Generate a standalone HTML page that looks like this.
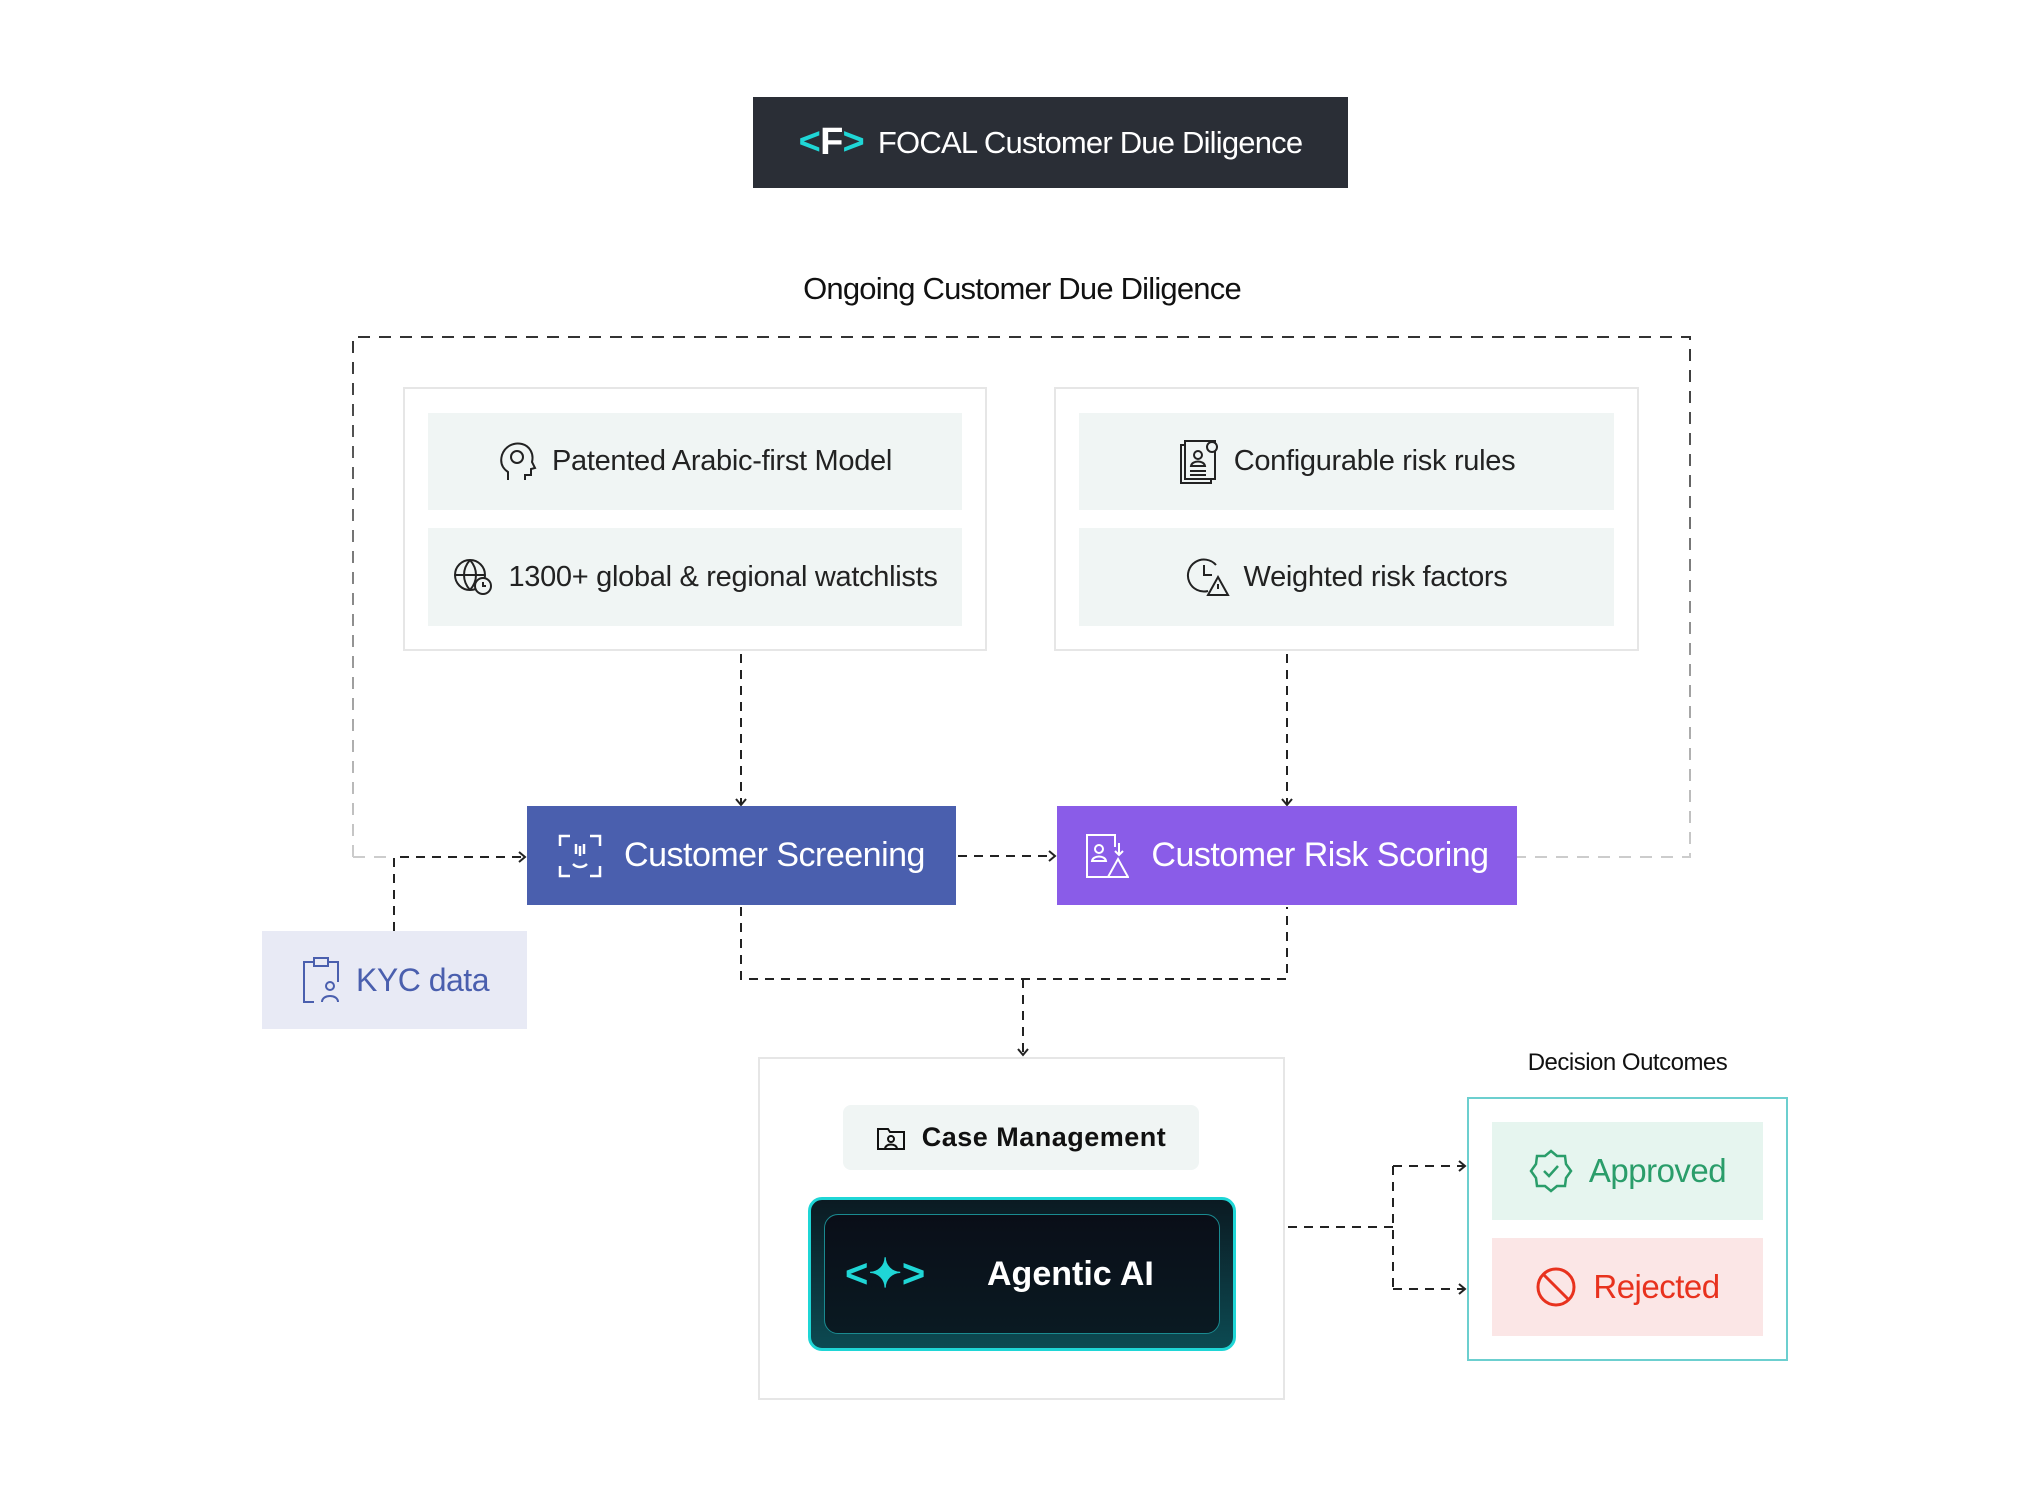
<!DOCTYPE html>
<html><head><meta charset="utf-8"><style>
body{margin:0;width:2040px;height:1494px;background:#fff;position:relative;overflow:hidden;font-family:"Liberation Sans",sans-serif}
.a{position:absolute;box-sizing:border-box}
.item{background:#f0f5f4;display:flex;align-items:center;justify-content:center;font-size:29px;color:#222;gap:14px;letter-spacing:-0.3px}
.panel{border:2px solid #e6e6e6;background:#fff}
.node{display:flex;align-items:center;justify-content:center;color:#fff;font-size:34px;gap:22px;letter-spacing:-0.5px}
</style></head><body>
<div class="a" style="left:753px;top:97px;width:595px;height:91px;background:#2a2e36;display:flex;align-items:center;justify-content:center;gap:14px;color:#fff;font-size:31px;letter-spacing:-0.8px">
<span style="font-size:38px;font-weight:bold"><span style="color:#1fd6d6">&lt;</span>F<span style="color:#1fd6d6">&gt;</span></span><span>FOCAL Customer Due Diligence</span></div>
<div class="a" style="left:700px;top:271px;width:644px;text-align:center;font-size:31px;color:#111;letter-spacing:-0.8px">Ongoing Customer Due Diligence</div>

<svg class="a" style="left:0;top:0" width="2040" height="1494">
<defs><linearGradient id="g" x1="0" y1="337" x2="0" y2="857" gradientUnits="userSpaceOnUse"><stop offset="0" stop-color="#333"/><stop offset="0.5" stop-color="#888"/><stop offset="1" stop-color="#ccc"/></linearGradient>
<marker id="ar" markerWidth="12" markerHeight="12" refX="9" refY="6" orient="auto" markerUnits="userSpaceOnUse"><path d="M3 1 L9 6 L3 11" fill="none" stroke="#222" stroke-width="2"/></marker></defs>
<path d="M353 857 V337 H1690 V857 H1517" fill="none" stroke="url(#g)" stroke-width="2" stroke-dasharray="12 9"/>
<line x1="353" y1="857" x2="394" y2="857" stroke="#ccc" stroke-width="2" stroke-dasharray="12 9"/>
<g fill="none" stroke="#222" stroke-width="2" stroke-dasharray="9 7">
<path d="M741 654 V805" marker-end="url(#ar)"/>
<path d="M1287 654 V805" marker-end="url(#ar)"/>
<path d="M394 931 V857 H525" marker-end="url(#ar)"/>
<path d="M958 856 H1055" marker-end="url(#ar)"/>
<path d="M741 907 V979 H1287 V907"/>
<path d="M1023 979 V1055" marker-end="url(#ar)"/>
<path d="M1288 1227 H1393"/>
<path d="M1393 1166 V1289"/>
<path d="M1393 1166 H1465" marker-end="url(#ar)"/>
<path d="M1393 1289 H1465" marker-end="url(#ar)"/>
</g></svg>

<div class="a panel" style="left:403px;top:387px;width:584px;height:264px"></div>
<div class="a panel" style="left:1054px;top:387px;width:585px;height:264px"></div>
<div class="a item" style="left:428px;top:413px;width:534px;height:97px"><svg width="40" height="44" viewBox="0 0 40 44" fill="none" stroke="#222" stroke-width="2"><path d="M10 40 V32 C4 28 2 22 4 15 C7 6 16 2 24 4 C32 6 36 14 34 22 L37 28 L33 29 V35 H27 V40"/><circle cx="19" cy="17" r="6"/></svg>Patented Arabic-first Model</div>
<div class="a item" style="left:428px;top:528px;width:534px;height:98px"><svg width="42" height="40" viewBox="0 0 42 40" fill="none" stroke="#222" stroke-width="2"><circle cx="18" cy="18" r="15"/><path d="M3 18 H33 M18 3 C10 12 10 24 18 33 M18 3 C26 12 26 24 18 33"/><circle cx="31" cy="29" r="8" fill="#f0f5f4"/><path d="M31 25 V29 H34"/></svg>1300+ global &amp; regional watchlists</div>
<div class="a item" style="left:1079px;top:413px;width:535px;height:97px"><svg width="42" height="46" viewBox="0 0 42 46" fill="none" stroke="#222" stroke-width="2"><rect x="3" y="6" width="30" height="38"/><rect x="7" y="2" width="30" height="38" fill="#f0f5f4"/><circle cx="20" cy="16" r="4"/><path d="M13 27 C14 21 26 21 27 27 Z M12 32 H28 M12 36 H28"/><circle cx="34" cy="8" r="5" fill="#f0f5f4"/></svg>Configurable risk rules</div>
<div class="a item" style="left:1079px;top:528px;width:535px;height:98px"><svg width="44" height="44" viewBox="0 0 44 44" fill="none" stroke="#222" stroke-width="2"><path d="M30 10 A16 16 0 1 0 22 36"/><path d="M18 10 V20 H26"/><path d="M32 22 L42 40 H22 Z" fill="#f0f5f4"/><path d="M32 29 V34"/></svg>Weighted risk factors</div>

<div class="a node" style="left:527px;top:806px;width:429px;height:99px;background:#4a5fae"><svg width="44" height="44" viewBox="0 0 44 44" fill="none" stroke="#fff" stroke-width="2.5"><path d="M2 12 V2 H12 M32 2 H42 V12 M2 32 V42 H12 M32 42 H42 V32 M18 10 V20 M26 10 V20 M22 12 V22 M15 30 C19 34 25 34 29 30"/></svg>Customer Screening</div>
<div class="a node" style="left:1057px;top:806px;width:460px;height:99px;background:#8a5ce8"><svg width="44" height="46" viewBox="0 0 44 46" fill="none" stroke="#fff" stroke-width="2"><path d="M28 44 H2 V2 H30 V14"/><circle cx="14" cy="16" r="4"/><path d="M7 28 C8 22 20 22 21 28 Z M34 10 V22 M30 18 L34 22 L38 18"/><path d="M33 26 L43 44 H23 Z"/></svg>Customer Risk Scoring</div>
<div class="a node" style="left:262px;top:931px;width:265px;height:98px;background:#e8eaf5;color:#4a5fae;font-size:32px;gap:14px"><svg width="42" height="48" viewBox="0 0 42 48" fill="none" stroke="#4a5fae" stroke-width="2"><path d="M14 6 H4 V46 H14 M28 6 H38 V26"/><rect x="14" y="2" width="14" height="8"/><circle cx="30" cy="30" r="4"/><path d="M22 46 C22 38 38 38 38 46"/></svg>KYC data</div>

<div class="a panel" style="left:758px;top:1057px;width:527px;height:343px"></div>
<div class="a" style="left:843px;top:1105px;width:356px;height:65px;background:#f0f5f4;border-radius:8px;display:flex;align-items:center;justify-content:center;gap:16px;font-size:27px;font-weight:bold;color:#111;letter-spacing:0.5px"><svg width="30" height="30" viewBox="0 0 30 30" fill="none" stroke="#111" stroke-width="2"><path d="M2 6 H12 L14 9 H28 V26 H2 Z"/><circle cx="15" cy="16" r="3"/><path d="M9 26 C9 20 21 20 21 26"/></svg>Case Management</div>
<div class="a" style="left:808px;top:1197px;width:428px;height:154px;border-radius:14px;background:linear-gradient(#0b1a22,#0c4a52);border:3px solid #1fd6d6">
<div class="a" style="left:13px;top:14px;width:396px;height:120px;border-radius:14px;background:linear-gradient(#0a0e18,#0a1a22);border:1px solid #1a8a90;display:flex;align-items:center;color:#fff;font-size:34px;font-weight:bold">
<span style="color:#1fd6d6;font-size:40px;margin-left:20px;width:142px">&lt;✦&gt;</span>Agentic AI</div></div>

<div class="a" style="left:1467px;top:1049px;width:321px;text-align:center;font-size:24px;color:#111;letter-spacing:-0.5px">Decision Outcomes</div>
<div class="a" style="left:1467px;top:1097px;width:321px;height:264px;border:2px solid #6ccfcf"></div>
<div class="a node" style="left:1492px;top:1122px;width:271px;height:98px;background:#e6f5ef;color:#2a9d6a;font-size:33px;gap:16px"><svg width="44" height="44" viewBox="0 0 44 44" fill="none" stroke="#2a9d6a" stroke-width="2.5"><path d="M22 2 L28 7 L36 7 L37 15 L42 22 L37 29 L36 37 L28 37 L22 42 L16 37 L8 37 L7 29 L2 22 L7 15 L8 7 L16 7 Z"/><path d="M15 22 L20 27 L29 17"/></svg>Approved</div>
<div class="a node" style="left:1492px;top:1238px;width:271px;height:98px;background:#fbe6e6;color:#e8321e;font-size:33px;gap:16px"><svg width="42" height="42" viewBox="0 0 42 42" fill="none" stroke="#e8321e" stroke-width="3"><circle cx="21" cy="21" r="18"/><path d="M8 8 L34 34"/></svg>Rejected</div>
</body></html>
